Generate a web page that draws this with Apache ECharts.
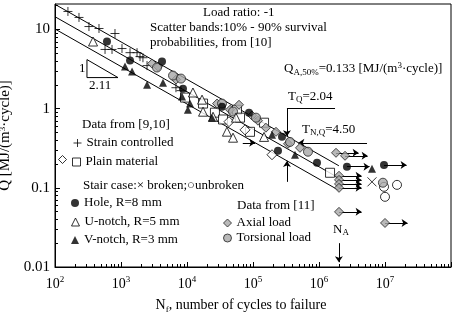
<!DOCTYPE html>
<html>
<head>
<meta charset="utf-8">
<script src="https://cdn.jsdelivr.net/npm/echarts@6/dist/echarts.min.js"></script>
<style>
  html, body { margin: 0; padding: 0; background: #fff; }
  #content { width: 454px; height: 313px; }
</style>
</head>
<body>
<div id="content"></div>
<script>
// 数据 [N, Q]
let strainControlled = [[157, 16.9], [231, 14.2], [327, 10.9], [464, 10.3], [811, 8.9], [573, 5.6], [731, 5.6], [1035, 5.75], [1370, 5.1], [1750, 5.1], [1940, 4.55], [2150, 4.4], [2480, 3.5], [6800, 1.84], [8100, 1.69]];
let plainSquare = [[9330, 1.38], [17500, 1.16], [26500, 0.89], [35100, 0.73], [57200, 0.97], [63600, 0.77], [90100, 0.51], [147000, 0.665], [1470000, 0.155]];
let plainDiamond = [[43300, 0.685], [75700, 0.54], [194000, 0.262]];
let stairBroken = [[6350000, 0.119]];
let stairUnbroken = [[9660000, 0.103], [15200000, 0.109], [10000000, 0.077]];
let hole = [[613, 7.05], [1370, 4.05], [4180, 3.94], [8690, 1.79], [33900, 1.06], [86900, 0.89], [275000, 0.443], [239000, 0.294], [933000, 0.207]];
let holeRunout = [[2650000, 0.185], [9660000, 0.195]];
let uNotch = [[377, 7.05], [12300, 1.6], [16900, 1.3], [17500, 0.916], [24800, 0.79], [40300, 0.512], [49800, 0.43], [55200, 0.77], [147000, 0.44]];
let vNotch = [[1150, 3.4], [1470, 2.94], [2480, 2.01], [4330, 2.13], [8400, 1.42], [11100, 1.16], [10300, 0.97], [23900, 0.77], [194000, 0.47], [433000, 0.262], [6350000, 0.174]];
let axial = [[2950, 3.71], [3640, 3.4], [6810, 2.33], [28500, 1.16], [44900, 0.97], [61400, 1.12], [96500, 0.82], [119000, 0.705], [157000, 0.575], [223000, 0.51], [339000, 0.36], [515000, 0.32]];
let axialRunout = [[1810000, 0.277], [2480000, 0.254], [2010000, 0.142], [2010000, 0.126], [2010000, 0.112], [2010000, 0.1], [2010000, 0.0497], [10000000, 0.036]];
let torsional = [[3510, 3.31], [6140, 2.62], [8110, 2.4], [33900, 1.16], [49800, 0.92], [111000, 0.77], [364000, 0.38], [681000, 0.286], [9300000, 0.116]];

// 分散带 10% / 50% / 90%
let bandN = [100, 2000000];
let bandUpper = [20.8, 0.19];
let bandMiddle = [14.5, 0.133];
let bandLower = [10.15, 0.093];

// 斜率三角形 1 : 2.11
let slopeN = [305, 305, 901, 305];
let slopeQ = [4.17, 2.47, 2.47, 4.17];

// 标注线 T_Q, T_N,Q, N_A
let plainSegments = [
  [[327000, 1.0], [1750000, 1.0]]
];
let arrowSegments = [
  [[327000, 1.0], [327000, 0.448]],
  [[327000, 0.119], [327000, 0.219]],
  [[70000, 0.371], [108000, 0.371]],
  [[5340000, 0.371], [487000, 0.371]],
  [[2000000, 0.02], [2000000, 0.0115]]
];

// 刻度
let xMajor = [1e2, 1e3, 1e4, 1e5, 1e6, 1e7, 1e8];
let xLabels = [1e2, 1e3, 1e4, 1e5, 1e6, 1e7];
let yMajor = [0.01, 0.1, 1, 10];

let minorOf = (decades) => {
  let out = [];
  decades.forEach((d) => {
    for (let k = 2; k <= 9; k++) out.push(+(d * k).toPrecision(3));
  });
  return out;
};
let xMinor = minorOf([1e2, 1e3, 1e4, 1e5, 1e6, 1e7]);
let yMinor = minorOf([0.01, 0.1, 1, 10]).filter((v) => v <= 21);

let serif = "Liberation Serif";
let runoutFactor = 2.2;

let toPairs = (xs, ys) => xs.map((x, i) => [x, ys[i]]);
let runoutLines = holeRunout.concat(axialRunout).map((p) => ({
  coords: [p, [p[0] * runoutFactor, p[1]]],
}));

let plus = "path://M5,0L5,10M0,5L10,5";
let cross = "path://M0,0L10,10M10,0L0,10";

let txtRich = {
  n: { fontFamily: serif, fontSize: 13, color: "#000", lineHeight: 16 },
  s: { fontFamily: serif, fontSize: 9, color: "#000", verticalAlign: "bottom", lineHeight: 9 },
  u: { fontFamily: serif, fontSize: 9, color: "#000", verticalAlign: "top", lineHeight: 9 },
};
let txt = (left, top, text) => ({
  type: "text",
  left: left,
  top: top,
  style: { text: text, fontFamily: serif, fontSize: 13, fill: "#000", rich: txtRich },
});

let lineSeries = (data) => ({
  type: "line",
  data: data,
  showSymbol: false,
  symbol: "none",
  silent: true,
  lineStyle: { color: "#000", width: 1 },
  z: 1,
});

let oneLegend = (name, left, top, extra) =>
  Object.assign(
    {
      data: [name],
      left: left,
      top: top,
      padding: 0,
      itemWidth: 8,
      itemHeight: 8,
      itemGap: 0,
      selectedMode: false,
      itemStyle: { borderWidth: 1 },
      textStyle: { fontFamily: serif, fontSize: 13, color: "#000", lineHeight: 14 },
    },
    extra || {}
  );

let myChart = echarts.init(document.getElementById("content"));
myChart.setOption({
  animation: false,
  grid: {
    left: 55,
    right: 3,
    top: 4,
    bottom: 46,
    outerBoundsMode: "none",
    show: true,
    borderColor: "#000",
    borderWidth: 1,
  },
  legend: [
    oneLegend("Strain controlled", 71, 136),
    oneLegend("Plain material", 72, 155),
    oneLegend("plain-diamond", 58, 155, { formatter: () => "" }),
    oneLegend("Hole, R=8 mm", 71, 196),
    oneLegend("U-notch, R=5 mm", 71, 215),
    oneLegend("V-notch, R=3 mm", 71, 233),
    oneLegend("Axial load", 223, 216),
    oneLegend("Torsional load", 223, 231),
  ],
  xAxis: [
    {
      type: "log",
      logBase: 10,
      min: 100,
      max: 1e8,
      position: "bottom",
      name: "{a|N}{sub|f}{a|, number of cycles to failure}",
      nameLocation: "middle",
      nameGap: 30,
      nameTextStyle: {
        padding: [0, 24, 0, 0],
        rich: {
          a: { fontFamily: serif, fontSize: 14, color: "#000", lineHeight: 17 },
          sub: { fontFamily: serif, fontSize: 9, color: "#000", verticalAlign: "bottom", lineHeight: 9 },
        },
      },
      axisLine: { lineStyle: { color: "#000", width: 1 } },
      axisTick: { inside: true, length: 5, customValues: xMajor, lineStyle: { color: "#000" } },
      axisLabel: {
        customValues: xLabels,
        margin: 8,
        formatter: (v) => "{b|10}{s|" + Math.round(Math.log10(v)) + "}",
        rich: {
          b: { fontFamily: serif, fontSize: 14, color: "#000", lineHeight: 18 },
          s: { fontFamily: serif, fontSize: 9, color: "#000", verticalAlign: "top", lineHeight: 9 },
        },
      },
      splitLine: { show: false },
    },
    {
      type: "log",
      logBase: 10,
      min: 100,
      max: 1e8,
      position: "bottom",
      axisLine: { show: false },
      axisTick: { inside: true, length: 3, customValues: xMinor, lineStyle: { color: "#000" } },
      axisLabel: { show: false },
      splitLine: { show: false },
    },
  ],
  yAxis: [
    {
      type: "log",
      logBase: 10,
      min: 0.01,
      max: 21,
      position: "left",
      name: "Q [MJ/(m{u|3}·cycle)]",
      nameLocation: "middle",
      nameGap: 38,
      nameTextStyle: {
        rich: {
          n: { fontFamily: serif, fontSize: 15, color: "#000" },
          u: { fontFamily: serif, fontSize: 9, color: "#000", verticalAlign: "top", lineHeight: 9 },
        },
        fontFamily: serif,
        fontSize: 15,
        color: "#000",
      },
      axisLine: { lineStyle: { color: "#000", width: 1 } },
      axisTick: { inside: true, length: 5, customValues: yMajor, lineStyle: { color: "#000" } },
      axisLabel: {
        customValues: yMajor,
        margin: 5,
        fontFamily: serif,
        fontSize: 15,
        color: "#000",
        formatter: (v) => String(v),
      },
      splitLine: { show: false },
    },
    {
      type: "log",
      logBase: 10,
      min: 0.01,
      max: 21,
      position: "left",
      axisLine: { show: false },
      axisTick: { inside: true, length: 3, customValues: yMinor, lineStyle: { color: "#000" } },
      axisLabel: { show: false },
      splitLine: { show: false },
    },
  ],
  graphic: [
    txt(203, 6, "Load ratio: -1"),
    txt(150, 21, "Scatter bands:10% - 90% survival"),
    txt(150, 36, "probabilities, from [10]"),
    txt(284, 61, "{n|Q}{s|A,50%}{n|=0.133 [MJ/(m}{u|3}{n|·cycle)]}"),
    txt(288, 90, "{n|T}{s|Q}{n|=2.04}"),
    txt(302, 123, "{n|T}{s|N,Q}{n|=4.50}"),
    txt(82, 118, "Data from [9,10]"),
    txt(83, 179, "Stair case:× broken;○unbroken"),
    txt(237, 199, "Data from [11]"),
    txt(333, 223, "{n|N}{s|A}"),
    txt(79, 62, "1"),
    txt(89, 79, "2.11"),
  ],
  series: [
    lineSeries(toPairs(bandN, bandUpper)),
    lineSeries(toPairs(bandN, bandMiddle)),
    lineSeries(toPairs(bandN, bandLower)),
    lineSeries(toPairs(slopeN, slopeQ)),
    {
      type: "lines",
      coordinateSystem: "cartesian2d",
      silent: true,
      symbol: ["none", "none"],
      lineStyle: { color: "#000", width: 1, opacity: 1 },
      data: plainSegments.map((c) => ({ coords: c })),
      z: 1,
    },
    {
      type: "lines",
      coordinateSystem: "cartesian2d",
      silent: true,
      symbol: ["none", "arrow"],
      symbolSize: 6,
      lineStyle: { color: "#000", width: 1, opacity: 1 },
      data: arrowSegments.map((c) => ({ coords: c })),
      z: 1,
    },
    {
      type: "lines",
      coordinateSystem: "cartesian2d",
      silent: true,
      symbol: ["none", "arrow"],
      symbolSize: 6,
      lineStyle: { color: "#000", width: 1, opacity: 1 },
      data: runoutLines,
      z: 1,
    },
    {
      name: "Strain controlled",
      type: "scatter",
      data: strainControlled,
      symbol: plus,
      symbolSize: 9,
      itemStyle: { color: "none", borderColor: "#000", borderWidth: 1 },
    },
    {
      name: "Plain material",
      type: "scatter",
      data: plainSquare,
      symbol: "rect",
      symbolSize: 9,
      itemStyle: { color: "#fff", borderColor: "#000", borderWidth: 1 },
    },
    {
      name: "plain-diamond",
      type: "scatter",
      data: plainDiamond,
      symbol: "diamond",
      symbolSize: 10,
      itemStyle: { color: "#fff", borderColor: "#000", borderWidth: 1 },
    },
    {
      name: "broken",
      type: "scatter",
      data: stairBroken,
      symbol: cross,
      symbolSize: 9,
      itemStyle: { color: "none", borderColor: "#000", borderWidth: 1 },
    },
    {
      name: "unbroken",
      type: "scatter",
      data: stairUnbroken,
      symbol: "circle",
      symbolSize: 9,
      itemStyle: { color: "#fff", borderColor: "#000", borderWidth: 1 },
    },
    {
      name: "Axial load",
      type: "scatter",
      data: axial.concat(axialRunout),
      symbol: "diamond",
      symbolSize: 9,
      itemStyle: { color: "#a8a8a8", borderColor: "#222", borderWidth: 1 },
    },
    {
      name: "Torsional load",
      type: "scatter",
      data: torsional,
      symbol: "circle",
      symbolSize: 9,
      itemStyle: { color: "#a8a8a8", borderColor: "#222", borderWidth: 1 },
    },
    {
      name: "U-notch, R=5 mm",
      type: "scatter",
      data: uNotch,
      symbol: "triangle",
      symbolSize: 9,
      itemStyle: { color: "#fff", borderColor: "#000", borderWidth: 1 },
    },
    {
      name: "V-notch, R=3 mm",
      type: "scatter",
      data: vNotch,
      symbol: "triangle",
      symbolSize: 8,
      itemStyle: { color: "#000" },
    },
    {
      name: "Hole, R=8 mm",
      type: "scatter",
      data: hole.concat(holeRunout),
      symbol: "circle",
      symbolSize: 8,
      itemStyle: { color: "#000" },
    },
  ],
});
window.addEventListener("resize", function () {
  myChart.resize();
});
</script>
</body>
</html>
